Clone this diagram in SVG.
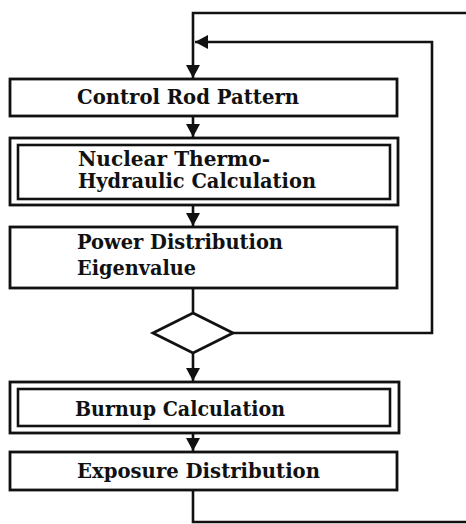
<svg xmlns="http://www.w3.org/2000/svg" width="466" height="524" viewBox="0 0 466 524">
<style>
.box{fill:#fff;stroke:#111;stroke-width:2.8}
.inner{fill:none;stroke:#111;stroke-width:2.6}
.ln{fill:none;stroke:#111;stroke-width:2.6}
.t{font-family:"DejaVu Serif","Liberation Serif",serif;font-weight:bold;font-size:20px;fill:#111}
</style>
<defs>
<marker id="ah" viewBox="0 0 13 14" refX="13" refY="7" markerWidth="13" markerHeight="14" markerUnits="userSpaceOnUse" orient="auto">
<path d="M0,0 L13,7 L0,14 Z" fill="#111"/>
</marker>
</defs>
<rect width="466" height="524" fill="#fff"/>
<g id="connectors">
<path class="ln" d="M466,13 H193 V78" marker-end="url(#ah)"/>
<path class="ln" d="M233,333 H432 V42 H195" marker-end="url(#ah)"/>
<path class="ln" d="M193,116 V137" marker-end="url(#ah)"/>
<path class="ln" d="M193,205 V226" marker-end="url(#ah)"/>
<path class="ln" d="M193,288 V313"/>
<path class="ln" d="M193,353 V381" marker-end="url(#ah)"/>
<path class="ln" d="M193,433 V451" marker-end="url(#ah)"/>
<path class="ln" d="M193,490 V522 H466"/>
</g>
<g id="control-rod">
<rect class="box" x="10" y="79" width="387" height="37"/>
<text class="t" x="77" y="104" textLength="222" lengthAdjust="spacingAndGlyphs">Control Rod Pattern</text>
</g>
<g id="thermo-hydraulic">
<rect class="box" x="10" y="138" width="388" height="67"/>
<rect class="inner" x="18" y="145" width="372" height="54"/>
<text class="t" x="78" y="166" textLength="192" lengthAdjust="spacingAndGlyphs">Nuclear Thermo-</text>
<text class="t" x="78" y="188" textLength="238" lengthAdjust="spacingAndGlyphs">Hydraulic Calculation</text>
</g>
<g id="power-dist">
<rect class="box" x="10" y="227" width="387" height="61"/>
<text class="t" x="77" y="249" textLength="206" lengthAdjust="spacingAndGlyphs">Power Distribution</text>
<text class="t" x="77" y="275" textLength="119" lengthAdjust="spacingAndGlyphs">Eigenvalue</text>
</g>
<g id="decision">
<path class="box" d="M193,313 L233,333 L193,353 L153,333 Z"/>
</g>
<g id="burnup">
<rect class="box" x="10" y="382" width="389" height="51"/>
<rect class="inner" x="18" y="389" width="372" height="37"/>
<text class="t" x="75" y="416" textLength="210" lengthAdjust="spacingAndGlyphs">Burnup Calculation</text>
</g>
<g id="exposure">
<rect class="box" x="10" y="452" width="387" height="38"/>
<text class="t" x="77" y="478" textLength="243" lengthAdjust="spacingAndGlyphs">Exposure Distribution</text>
</g>
</svg>
